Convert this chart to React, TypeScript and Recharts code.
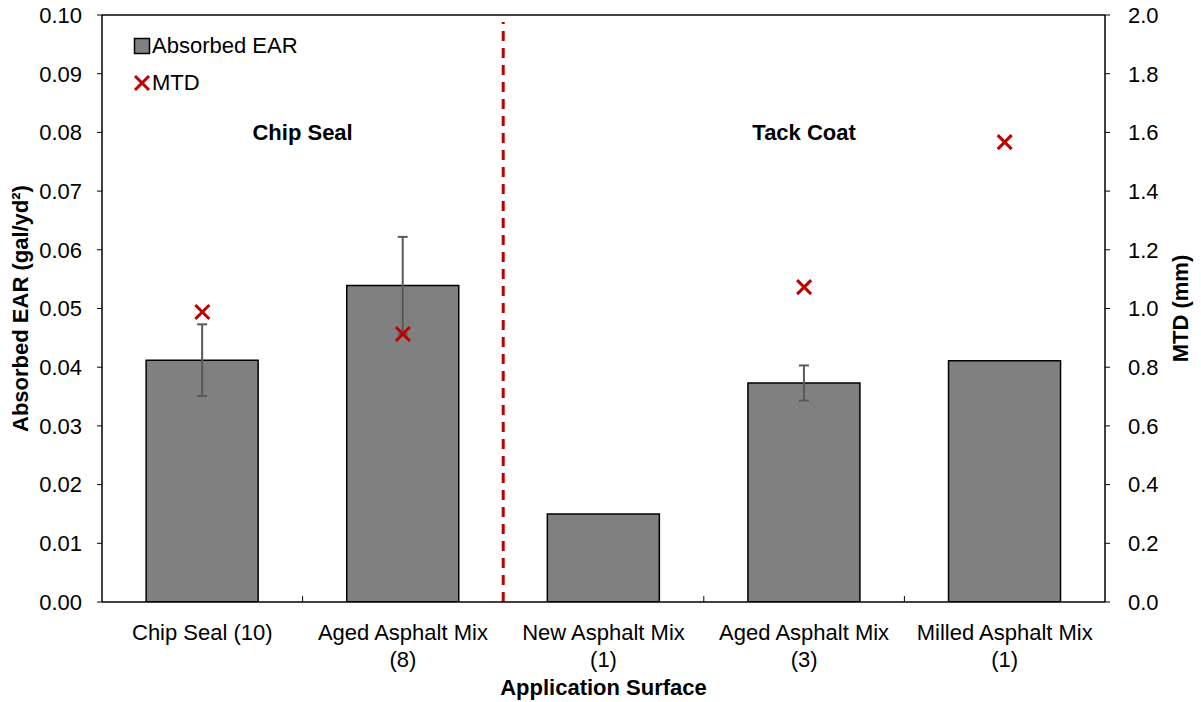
import React from 'react';
import {
  ComposedChart, Bar, ErrorBar, Scatter, XAxis, YAxis, ReferenceLine, ReferenceDot, Legend,
} from 'recharts';

const categories = ['Chip Seal (10)', 'Aged Asphalt Mix (8)', 'New Asphalt Mix (1)', 'Aged Asphalt Mix (3)', 'Milled Asphalt Mix (1)'];
const absorbedEAR = [0.0412, 0.0539, 0.0150, 0.0373, 0.0411];
const earError: (number | null)[] = [0.0061, 0.0083, null, 0.0030, null];
const mtdValues: (number | null)[] = [0.988, 0.913, null, 1.073, 1.567];
const leftTicks = [0, 0.01, 0.02, 0.03, 0.04, 0.05, 0.06, 0.07, 0.08, 0.09, 0.1];
const rightTicks = [0, 0.2, 0.4, 0.6, 0.8, 1.0, 1.2, 1.4, 1.6, 1.8, 2.0];
const groupNames = ['Chip Seal', 'Tack Coat'];
const groupX = [1, 3.5];
const groupY = [0.08, 0.08];
const dividerX = 2;
const boundaryTicks = [1, 3, 4];

const data = categories.map((name, i) => ({
  name,
  pos: i + 0.5,
  ear: absorbedEAR[i],
  err: earError[i],
  mtd: mtdValues[i],
}));

const FONT = '"Liberation Sans", Arial, sans-serif';
const RED = '#C00000';

function splitLabel(s: string): string[] {
  if (s.length <= 15) return [s];
  const idx = s.lastIndexOf(' (');
  if (idx < 0) return [s];
  return [s.slice(0, idx), s.slice(idx + 1)];
}

function XTick(props: any) {
  const { x, y, payload } = props;
  const lines = splitLabel(String(payload.value));
  return (
    <g transform={`translate(${x},${y})`}>
      <text textAnchor="middle" fontFamily={FONT} fontSize={22} fill="#000">
        {lines.map((l, i) => (
          <tspan key={i} x={0} dy={i === 0 ? 38 : 27}>{l}</tspan>
        ))}
      </text>
    </g>
  );
}

function XMark(props: any) {
  const { cx, cy, payload } = props;
  if (payload == null || payload.mtd == null || cx == null || cy == null || isNaN(cy)) return <g />;
  const d = 7;
  return (
    <g stroke={RED} strokeWidth={3}>
      <line x1={cx - d} y1={cy - d} x2={cx + d} y2={cy + d} />
      <line x1={cx - d} y1={cy + d} x2={cx + d} y2={cy - d} />
    </g>
  );
}

function LegendContent() {
  return (
    <div style={{ fontFamily: FONT, fontSize: 22, color: '#000' }}>
      <div style={{ display: 'flex', alignItems: 'center', height: 37 }}>
        <svg width={18} height={18} style={{ marginRight: 1 }}>
          <rect x={1.5} y={1.5} width={15} height={15} fill="#808080" stroke="#000" strokeWidth={1.5} />
        </svg>
        <span>Absorbed EAR</span>
      </div>
      <div style={{ display: 'flex', alignItems: 'center', height: 37 }}>
        <svg width={18} height={18} style={{ marginRight: 1 }}>
          <g stroke={RED} strokeWidth={3}>
            <line x1={2} y1={2} x2={16} y2={16} />
            <line x1={2} y1={16} x2={16} y2={2} />
          </g>
        </svg>
        <span>MTD</span>
      </div>
    </div>
  );
}

const leftTitle = (props: any) => {
  const vb = props.viewBox || {};
  const cx = vb.x + 20;
  const cy = vb.y + vb.height / 2;
  return (
    <text x={cx} y={cy} transform={`rotate(-90 ${cx} ${cy})`} textAnchor="middle" dominantBaseline="central"
      fontFamily={FONT} fontSize={22} fontWeight="bold" fill="#000">
      Absorbed EAR (gal/yd²)
    </text>
  );
};

const rightTitle = (props: any) => {
  const vb = props.viewBox || {};
  const cx = vb.x + 75;
  const cy = vb.y + vb.height / 2;
  return (
    <text x={cx} y={cy} transform={`rotate(-90 ${cx} ${cy})`} textAnchor="middle" dominantBaseline="central"
      fontFamily={FONT} fontSize={22} fontWeight="bold" fill="#000">
      MTD (mm)
    </text>
  );
};

const bottomTitle = (props: any) => {
  const vb = props.viewBox || {};
  const cx = vb.x + vb.width / 2;
  return (
    <text x={cx} y={vb.y + 93} textAnchor="middle" fontFamily={FONT} fontSize={22} fontWeight="bold" fill="#000">
      Application Surface
    </text>
  );
};

export default function App() {
  return (
    <div style={{ position: 'absolute', left: 0, top: 0, width: 1201, height: 702, background: '#fff' }}>
      <ComposedChart
        width={1201}
        height={702}
        data={data}
        margin={{ top: 15, right: 0, bottom: 0, left: 0 }}
        barCategoryGap="22%"
      >
        <XAxis
          dataKey="name"
          xAxisId={0}
          height={100}
          interval={0}
          tickLine={false}
          tickSize={0}
          tickMargin={0}
          axisLine={{ stroke: '#000', strokeWidth: 1.5 }}
          tick={<XTick />}
          label={bottomTitle}
        />
        <XAxis
          xAxisId="num"
          dataKey="pos"
          type="number"
          domain={[0, 5]}
          ticks={[0, 1, 2, 3, 4, 5]}
          hide
          allowDataOverflow
        />
        <YAxis
          yAxisId="left"
          width={102}
          domain={[0, 0.1]}
          ticks={leftTicks}
          interval={0}
          allowDataOverflow
          tickFormatter={(v: number) => v.toFixed(2)}
          tick={{ fontFamily: FONT, fontSize: 22, fill: '#000' }}
          tickSize={5}
          tickMargin={15}
          tickLine={{ stroke: '#000' }}
          axisLine={{ stroke: '#000', strokeWidth: 1.5 }}
          label={leftTitle}
        />
        <YAxis
          yAxisId="right"
          orientation="right"
          width={96}
          domain={[0, 2]}
          ticks={rightTicks}
          interval={0}
          allowDataOverflow
          tickFormatter={(v: number) => v.toFixed(1)}
          tick={{ fontFamily: FONT, fontSize: 22, fill: '#000', textAnchor: 'start' }}
          tickSize={5}
          tickMargin={18}
          tickLine={{ stroke: '#000' }}
          axisLine={{ stroke: '#000', strokeWidth: 1.5 }}
          label={rightTitle}
        />
        <ReferenceLine yAxisId="left" y={0.1} stroke="#000" strokeWidth={1.5} ifOverflow="visible" />
        {boundaryTicks.map((b) => (
          <ReferenceLine
            key={b}
            xAxisId="num"
            yAxisId="left"
            segment={[{ x: b, y: 0 }, { x: b, y: 0.001 }]}
            stroke="#000"
            strokeWidth={1}
          />
        ))}
        <Bar
          dataKey="ear"
          yAxisId="left"
          xAxisId={0}
          fill="#808080"
          stroke="#000"
          strokeWidth={1.5}
          isAnimationActive={false}
        >
          <ErrorBar dataKey="err" width={5} strokeWidth={2} stroke="#595959" direction="y" />
        </Bar>
        <Scatter
          dataKey="mtd"
          yAxisId="right"
          xAxisId={0}
          shape={XMark}
          isAnimationActive={false}
        />
        <ReferenceLine
          xAxisId="num"
          yAxisId="left"
          segment={[{ x: dividerX, y: 0 }, { x: dividerX, y: 0.0988 }]}
          stroke={RED}
          strokeWidth={3}
          strokeDasharray="10 7"
        />
        {groupNames.map((g, i) => (
          <ReferenceDot
            key={g}
            xAxisId="num"
            yAxisId="left"
            x={groupX[i]}
            y={groupY[i]}
            r={1}
            shape={(p: any) => (
              <text x={p.cx} y={p.cy} textAnchor="middle" dominantBaseline="central"
                fontFamily={FONT} fontSize={22} fontWeight="bold" fill="#000">
                {g}
              </text>
            )}
          />
        ))}
        <Legend
          layout="vertical"
          align="center"
          verticalAlign="middle"
          wrapperStyle={{ position: 'absolute', left: 133, top: 27, width: 'auto', height: 'auto' }}
          content={LegendContent}
        />
      </ComposedChart>
    </div>
  );
}
